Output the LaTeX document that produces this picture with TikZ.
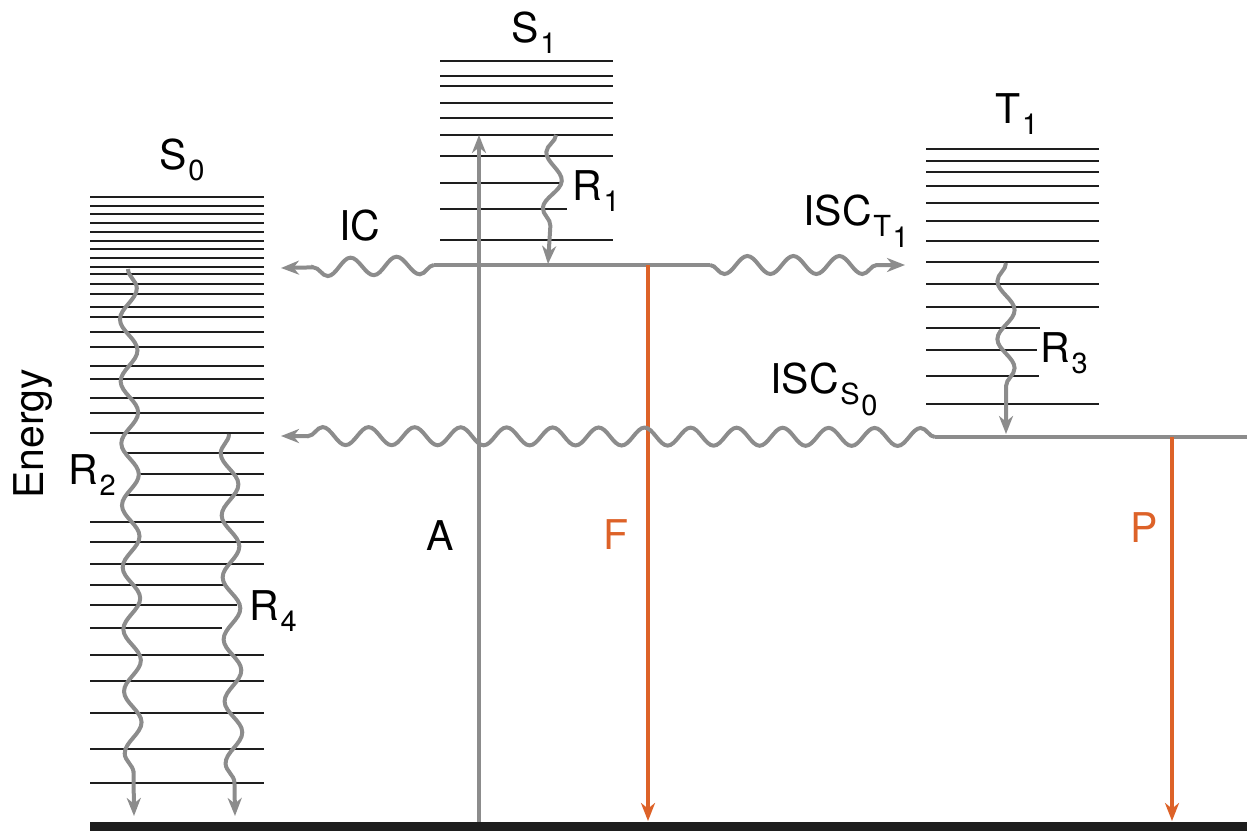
\documentclass[tikz,border=0pt]{standalone}
\usepackage{fontspec}
\setmainfont{TeX Gyre Heros}
\usepackage{tikz}
\usetikzlibrary{arrows.meta,decorations.pathmorphing}
\definecolor{relaxgray}{RGB}{140,140,140}
\definecolor{emitorange}{RGB}{221,98,40}
\definecolor{levelblack}{RGB}{30,30,30}
\newcommand\lsub[1]{\kern0.8pt\raisebox{-5.5pt}{\fontsize{14.5}{15}\selectfont #1}}

\begin{document}
\begin{tikzpicture}[
  x=0.5pt, y=-0.5pt,
  every node/.style={inner sep=0pt, font=\fontsize{20.5}{22}\selectfont},
  level/.style={levelblack, line width=1.3pt},
  ground/.style={levelblack, line width=4.5pt},
  relax/.style={relaxgray, line width=2pt},
  tip/.style={-{Stealth[length=9pt, width=7pt, inset=2.8pt]}},
  hwave/.style={relax, tip, decorate, decoration={snake, amplitude=4.5pt, segment length=23pt, post length=7pt}},
  vwave/.style={relax, tip, decorate, decoration={snake, amplitude=4.3pt, segment length=31pt, post length=9pt}},
  emit/.style={emitorange, line width=1.6pt, tip}
]
\useasboundingbox (0,0) rectangle (1247,830);

\foreach \y in {197,206,214,223,232,241,249,258,267,274,284,294,307,317,332,347,366,379,398,413,433,522,542,564,655,681,713,749,783}
  \draw[level] (90,\y) -- (264,\y);
\foreach \y/\xa/\xb in {453/127/264, 474/137/264, 495/128/264, 585/90/227, 605/90/237, 628/90/222}
  \draw[level] (\xa,\y) -- (\xb,\y);
\foreach \y in {61,76,86,103,118,135,156,240}
  \draw[level] (440,\y) -- (613,\y);
\foreach \y/\xb in {183/563, 209/567}
  \draw[level] (440,\y) -- (\xb,\y);
\foreach \y in {149,161,172,186,203,221,241,262,284,307,404}
  \draw[level] (926,\y) -- (1099,\y);
\foreach \y/\xb in {328/1040, 350/1037, 376/1039}
  \draw[level] (926,\y) -- (\xb,\y);

\coordinate (groundL) at (90,826);
\coordinate (groundR) at (1247,826);
\draw[ground] (groundL) -- (groundR);

\coordinate (s1v0) at (434,265);
\coordinate (s1v0r) at (710,265);
\coordinate (t1v0) at (935,437);
\coordinate (t1v0r) at (1247,437);
\draw[relax] (s1v0) -- (s1v0r);
\draw[relax] (t1v0) -- (t1v0r);

\coordinate (absBase) at (479,822);
\coordinate (absTop) at (479,135);
\coordinate (fluoTop) at (648,265);
\coordinate (fluoEnd) at (648,821);
\coordinate (phosTop) at (1172,437);
\coordinate (phosEnd) at (1172,821);
\draw[relax, tip] (absBase) -- (absTop);
\draw[emit] (fluoTop) -- (fluoEnd);
\draw[emit] (phosTop) -- (phosEnd);

\coordinate (icEnd) at (281,268);
\coordinate (iscTEnd) at (905,265);
\coordinate (iscSEnd) at (281,436);
\draw[hwave] (s1v0) -- (icEnd);
\draw[hwave, decoration={mirror}] (s1v0r) -- (iscTEnd);
\draw[hwave, decoration={mirror}] (t1v0) -- (iscSEnd);

\coordinate (r1Top) at (556,135);
\coordinate (r1End) at (548,264);
\coordinate (r2Top) at (128,269);
\coordinate (r2End) at (134,816);
\coordinate (r3Top) at (1006,263);
\coordinate (r3End) at (1006,434);
\coordinate (r4Top) at (229,434);
\coordinate (r4End) at (235,816);
\draw[vwave, decoration={mirror, segment length=28pt, post length=14pt}] (r1Top) -- (r1End);
\draw[vwave] (r2Top) -- (r2End);
\draw[vwave, decoration={mirror, segment length=29pt, post length=18pt}] (r3Top) -- (r3End);
\draw[vwave, decoration={mirror}] (r4Top) -- (r4End);

\node[anchor=base west] (s0Label) at (159,169) {S\lsub{0}};
\node[anchor=base west] (s1Label) at (511,42) {S\lsub{1}};
\node[anchor=base west] (t1Label) at (995,123) {T\lsub{1}};
\node[anchor=base west] (r1Label) at (572,200) {R\lsub{1}};
\node[anchor=base west] (r2Label) at (68,484) {R\lsub{2}};
\node[anchor=base west] (r3Label) at (1040,362) {R\lsub{3}};
\node[anchor=base west] (r4Label) at (249,620) {R\lsub{4}};
\node[anchor=base west] (icLabel) at (339,240) {IC};
\node[anchor=base west] (iscTLabel) at (803,225) {ISC\lsub{T\lsub{1}}};
\node[anchor=base west] (iscSLabel) at (770,393) {ISC\lsub{S\lsub{0}}};
\node[anchor=base west] (absLabel) at (426,550) {A};
\node[anchor=base west, text=emitorange] (fluoLabel) at (603,549) {F};
\node[anchor=base west, text=emitorange] (phosLabel) at (1130,542) {P};
\node[anchor=base west, rotate=90] (energyLabel) at (43,499) {Energy};
\end{tikzpicture}
\end{document}
